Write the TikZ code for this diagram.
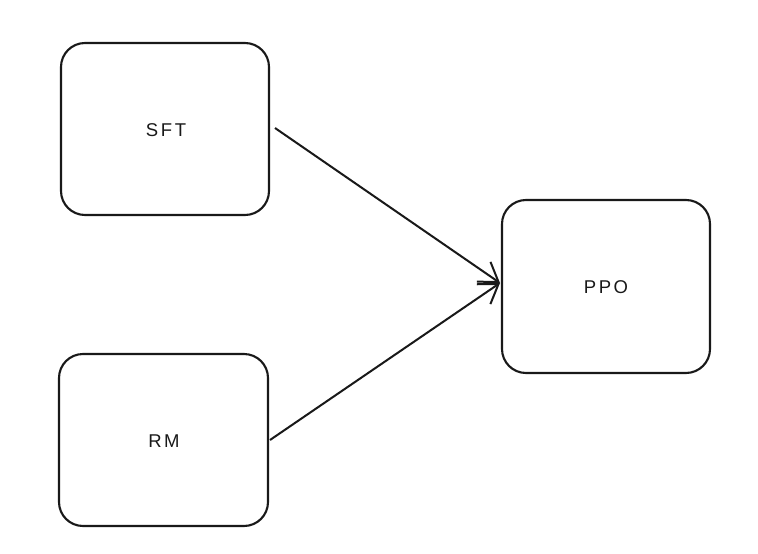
\documentclass[tikz,border=0pt]{standalone}
\usepackage{fontspec}
\setmainfont{Liberation Sans}
\usetikzlibrary{arrows.meta}
\begin{document}
\begin{tikzpicture}[x=1pt,y=-1pt,
  box/.style={draw=black!90, line width=2.1pt, rounded corners=24pt, fill=white},
  lbl/.style={font=\fontsize{18.5}{22}\selectfont\addfontfeature{LetterSpace=14}, text=black!90},
  conn/.style={draw=black!90, line width=2pt, -{Straight Barb[length=18pt,width=24pt,line width=2pt]}}]
\useasboundingbox[fill=white] (0,0) rectangle (758,554);
\draw[box] (61,43) rectangle (269,215);
\draw[box] (59,354) rectangle (268,526);
\draw[box] (502,200) rectangle (710,373);
\node[lbl] (sft) at (166,130) {SFT};
\node[lbl] (rm) at (164,441) {RM};
\node[lbl] (ppo) at (606,287) {PPO};
\coordinate (sftR) at (275,128);
\coordinate (rmR) at (270,440);
\coordinate (ppoL) at (500,283);
\draw[conn] (sftR) -- (ppoL);
\draw[conn] (rmR) -- (ppoL);
\end{tikzpicture}
\end{document}
